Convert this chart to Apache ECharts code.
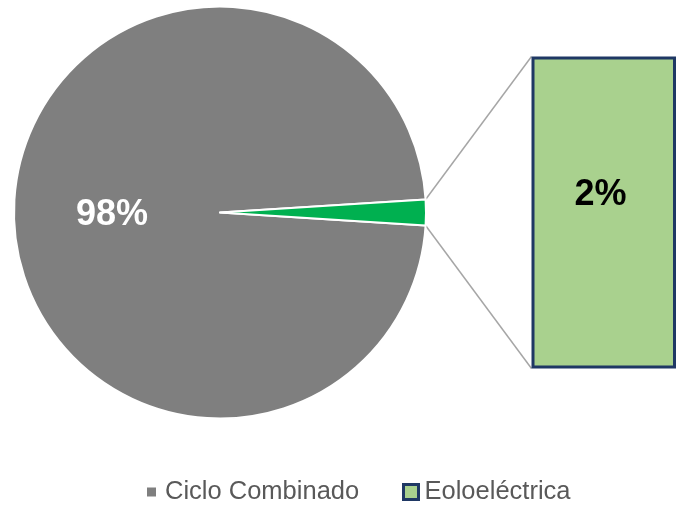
<!DOCTYPE html>
<html>
<head>
    <meta charset="utf-8">
    <title>Ciclo Combinado / Eoloeléctrica</title>
    <script src="https://cdn.jsdelivr.net/npm/echarts@6/dist/echarts.min.js"></script>
    <style>
        html, body {margin: 0; padding: 0; background: #fff;}
        #chartmain {width: 676px; height: 506px;}
    </style>
</head>
<body>
<div id="chartmain"></div>
<script>
    // datos
    var categorias = ['Ciclo Combinado', 'Eoloeléctrica'];
    var valores = [98, 2];
    var etiquetas = ['98%', '2%'];

    // geometria del pastel y de la barra
    var cx = 220, cy = 212.5, r = 206;
    var barLeft = 531.5, barTop = 56.5, barHeight = 312;
    var halfAngle = valores[1] / 100 * 360 / 2;   // mitad de la rebanada verde
    var rad = halfAngle * Math.PI / 180;

    var myChart = echarts.init(document.getElementById('chartmain'));
    var option = {
        animation: false,
        textStyle: {fontFamily: 'Liberation Sans, Arial, sans-serif'},
        legend: [
            {
                data: [{
                    name: categorias[0],
                    itemStyle: {color: '#7f7f7f', borderWidth: 0}
                }],
                left: 147, top: 479, padding: 0,
                itemWidth: 9, itemHeight: 9,
                icon: 'rect',
                selectedMode: false,
                textStyle: {color: '#595959', fontSize: 25.5, padding: [0, 0, 0, 4]}
            },
            {
                data: [{
                    name: categorias[1],
                    itemStyle: {color: '#a9d18e', borderColor: '#1f3864', borderWidth: 3}
                }],
                left: 402, top: 479, padding: 0,
                itemWidth: 15, itemHeight: 15,
                icon: 'rect',
                selectedMode: false,
                textStyle: {color: '#595959', fontSize: 25.5, padding: [0, 0, 0, 1]}
            }
        ],
        grid: {left: barLeft, top: barTop, width: 300, height: barHeight},
        xAxis: {type: 'category', data: [categorias[1]], show: false},
        yAxis: {type: 'value', min: 0, max: valores[1], show: false},
        graphic: [
            {
                type: 'line', z: 1,
                shape: {x1: cx + r * Math.cos(rad), y1: cy - r * Math.sin(rad), x2: barLeft, y2: barTop},
                style: {stroke: '#a6a6a6', lineWidth: 1.5}
            },
            {
                type: 'line', z: 1,
                shape: {x1: cx + r * Math.cos(rad), y1: cy + r * Math.sin(rad), x2: barLeft, y2: barTop + barHeight},
                style: {stroke: '#a6a6a6', lineWidth: 1.5}
            }
        ],
        series: [
            {
                name: 'pastel',
                type: 'pie',
                center: [cx, cy],
                radius: r,
                startAngle: 360 - halfAngle,
                clockwise: true,
                silent: true,
                z: 3,
                itemStyle: {borderColor: '#ffffff', borderWidth: 2},
                labelLine: {show: false},
                data: [
                    {
                        name: categorias[0], value: valores[0],
                        itemStyle: {color: '#7f7f7f'},
                        label: {
                            show: true, position: 'inside', formatter: etiquetas[0],
                            offset: [-2, 3],
                            color: '#ffffff', fontSize: 36, fontWeight: 'bold'
                        }
                    },
                    {
                        name: categorias[1], value: valores[1],
                        itemStyle: {color: '#00b050'},
                        label: {show: false}
                    }
                ]
            },
            {
                name: categorias[1],
                type: 'bar',
                barWidth: '100%',
                silent: true,
                itemStyle: {color: '#a9d18e', borderColor: '#1f3864', borderWidth: 3},
                label: {
                    show: true, position: [69, 139], formatter: etiquetas[1],
                    align: 'center', verticalAlign: 'middle',
                    color: '#000000', fontSize: 36, fontWeight: 'bold'
                },
                data: [valores[1]]
            }
        ]
    };
    myChart.setOption(option);
</script>
</body>
</html>
